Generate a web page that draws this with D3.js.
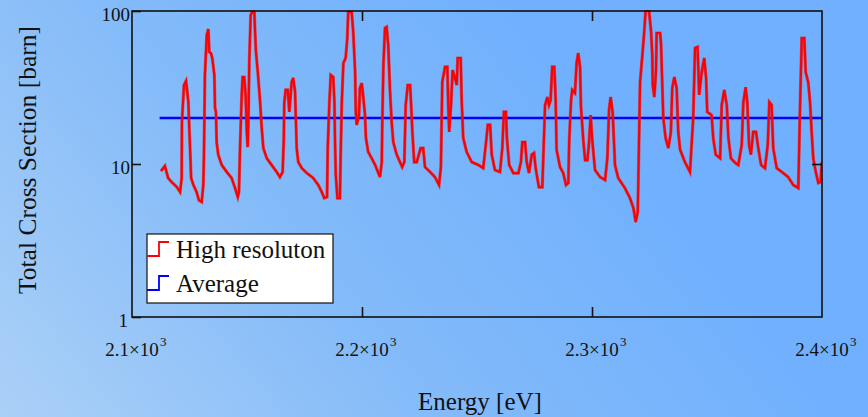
<!DOCTYPE html>
<html><head><meta charset="utf-8">
<script src="https://cdn.jsdelivr.net/npm/d3@7"></script>
<style>html,body{margin:0;padding:0;overflow:hidden;background:#80b9fa}</style>
</head><body>
<script>
// Data
const energy = [2112.6,2114.3,2115.7,2117.3,2119.4,2120.9,2121.6,2121.7,2122.6,2123.5,2124.5,2124.8,2125.3,2125.7,2126.7,2128.1,2129.1,2130.3,2131.0,2131.3,2131.7,2132.5,2133.2,2133.6,2134.3,2134.9,2135.8,2136.1,2136.5,2136.8,2137.5,2139.0,2141.2,2143.3,2144.8,2146.0,2146.5,2147.0,2147.7,2148.1,2148.8,2149.4,2149.9,2150.3,2150.6,2151.0,2151.6,2152.5,2153.2,2153.5,2153.9,2154.7,2155.7,2156.4,2157.1,2158.6,2160.7,2162.9,2164.3,2165.5,2166.0,2166.2,2166.8,2167.7,2168.4,2169.4,2170.1,2170.9,2171.6,2172.3,2173.8,2176.0,2178.8,2181.0,2182.5,2183.6,2184.8,2185.1,2185.8,2186.4,2187.5,2188.0,2188.3,2188.6,2189.3,2190.4,2190.7,2191.2,2191.9,2192.9,2193.6,2194.0,2195.5,2196.2,2197.0,2197.3,2197.7,2198.7,2199.1,2199.9,2200.6,2201.3,2201.7,2202.7,2204.2,2205.7,2207.1,2207.8,2208.6,2208.8,2209.3,2210.0,2210.7,2211.4,2212.2,2212.9,2213.6,2215.1,2216.5,2217.5,2218.4,2219.0,2219.9,2220.9,2221.3,2221.9,2222.7,2223.8,2225.5,2226.6,2227.4,2229.6,2231.7,2233.5,2234.3,2234.9,2236.1,2237.1,2237.5,2237.9,2238.7,2239.4,2240.4,2241.2,2241.6,2242.9,2243.3,2244.0,2245.5,2247.7,2250.6,2252.7,2253.8,2254.7,2255.7,2256.4,2257.8,2260.0,2261.0,2261.7,2262.6,2263.0,2264.0,2265.8,2268.0,2269.1,2269.7,2270.9,2271.6,2272.6,2273.8,2274.8,2275.5,2276.9,2278.4,2279.0,2279.6,2280.6,2281.3,2282.0,2282.7,2283.6,2284.2,2284.6,2286.1,2287.5,2288.7,2289.7,2290.1,2290.9,2291.4,2292.6,2293.3,2294.0,2294.8,2295.2,2296.2,2297.0,2298.0,2298.7,2299.4,2300.1,2301.3,2303.5,2305.7,2306.7,2307.4,2308.1,2309.0,2310.0,2311.4,2314.3,2316.5,2318.0,2319.0,2319.9,2320.4,2320.9,2321.9,2322.7,2323.3,2324.8,2325.7,2326.2,2326.4,2327.1,2327.8,2328.1,2329.6,2330.0,2330.6,2331.0,2332.0,2333.2,2334.3,2334.9,2335.8,2336.8,2337.5,2338.3,2340.4,2342.6,2344.0,2344.8,2345.9,2346.6,2347.7,2348.8,2349.6,2350.1,2352.0,2352.7,2353.8,2355.7,2356.4,2357.5,2358.6,2359.3,2360.4,2362.2,2363.6,2365.1,2365.8,2366.8,2367.5,2368.3,2369.1,2370.1,2371.3,2372.3,2373.5,2375.2,2376.4,2377.1,2378.1,2378.8,2380.3,2382.5,2385.3,2387.5,2389.7,2390.4,2391.2,2392.3,2392.9,2394.0,2394.8,2395.5,2396.2,2397.3,2398.4,2399.4,2399.9];
const crossSection = [9.0,9.7,8.1,7.6,7.1,6.56,8.1,18.8,32.8,34.9,25.4,18.8,12.0,8.1,7.3,6.56,5.8,5.65,7.3,12.0,38.2,69.7,76.3,54,53,49.3,38.2,23.2,21.9,13.9,11.5,9.85,8.87,8.1,6.97,6.08,6.56,13.3,28.3,37.0,37.0,28.3,16.2,12.9,18.8,47.8,94,100,98.5,72.9,54,39.9,25.4,17.2,12.7,10.9,9.85,8.87,8.22,8.87,14.8,25.0,30.5,30.5,21.9,34.3,36.5,29.6,12.7,10.3,9.4,8.73,8.1,7.29,6.56,5.99,6.08,12.7,25.0,38.2,37.0,25.4,13.3,8.47,5.99,5.99,10.9,25.0,45.7,49.3,66.6,98.5,98.5,72.9,39.9,21.9,18.0,20.9,31.4,33.8,27.0,20.9,14.8,12.0,10.9,9.85,8.73,8.22,10.3,18.0,44.4,77.4,78.6,60.0,29.6,18.8,13.9,11.5,10.3,9.55,10.3,24.3,32.8,32.8,25.4,16.2,10.3,10.3,12.7,12.7,9.55,8.87,8.22,7.29,9.55,34.3,43.1,43.1,24.3,16.2,24.3,41.1,36.5,32.8,49.3,49.3,27.0,14.8,12.0,10.3,9.85,9.4,13.3,18.0,18.0,11.5,9.14,8.87,12.7,21.9,21.9,14.8,9.85,8.73,8.73,10.3,13.9,13.9,10.3,8.73,11.5,11.8,9.4,7.07,7.07,13.3,24.3,27.4,24.3,26.2,43.1,43.1,26.2,12.4,9.55,8.73,7.29,7.51,14.4,26.2,30.5,29.1,45.7,53.1,43.1,23.6,14.4,10.6,10.6,13.7,20.9,14.4,9.14,8.22,7.86,11.1,22.5,27.4,21.5,9.85,8.1,6.97,5.99,5.16,4.18,4.86,13.3,34.3,51.6,72.9,100,100,72.9,51.6,32.8,27.4,39.9,71.8,71.8,61.8,31.4,20.0,14.8,12.7,16.2,31.4,37.0,31.4,16.2,12.4,10.3,8.87,20.0,57.3,58.2,28.3,39.9,49.3,36.5,21.9,20.9,14.8,11.5,10.9,24.3,30.5,24.3,14.8,10.9,10.2,9.85,13.3,25.4,31.8,25.4,13.3,11.5,16.2,16.2,12.7,9.85,9.4,13.3,25.4,24.3,12.7,9.4,8.87,8.22,7.29,6.97,21.9,66.6,66.6,39.9,34.3,25.4,16.2,10.9,8.87,7.51,7.63,10.3];
const averageRange = [2112, 2400];
const averageValue = 20;
const xTicks = [2100, 2200, 2300, 2400];
const xTickMantissa = ["2.1", "2.2", "2.3", "2.4"];
const yTicks = [1, 10, 100];
const yTickLabels = ["1", "10", "100"];
const seriesNames = ["High resoluton", "Average"];
const seriesColors = ["#ff0000", "#0000ff"];

const W = 868, H = 417;
const svg = d3.select("body").append("svg").attr("width", W).attr("height", H)
  .style("font-family", "'Liberation Serif','Times New Roman',serif");

const defs = svg.append("defs");
const grad = defs.append("linearGradient").attr("id", "bg")
  .attr("gradientUnits", "userSpaceOnUse")
  .attr("x1", 0).attr("y1", H).attr("x2", 520).attr("y2", 0);
grad.append("stop").attr("offset", 0).attr("stop-color", "#abd0f7");
grad.append("stop").attr("offset", 0.5).attr("stop-color", "#84bbf9");
grad.append("stop").attr("offset", 1).attr("stop-color", "#70b0fe");
svg.append("rect").attr("width", W).attr("height", H).attr("fill", "url(#bg)");

const L = 132, R = 822, T = 11, B = 317;
const x = d3.scaleLinear().domain([2100, 2400]).range([L, R]);
const y = d3.scaleLog().domain([1, 100]).range([B, T]);

defs.append("clipPath").attr("id", "clip").append("rect")
  .attr("x", L).attr("y", T - 1).attr("width", R - L).attr("height", B - T + 1);

// average line
const plot = svg.append("g").attr("clip-path", "url(#clip)");
plot.append("line")
  .attr("x1", x(averageRange[0])).attr("x2", x(averageRange[1]))
  .attr("y1", y(averageValue)).attr("y2", y(averageValue))
  .attr("stroke", seriesColors[1]).attr("stroke-width", 2.5);

// high resolution line
const data = energy.map((e, i) => [e, crossSection[i]]);
const line = d3.line().x(d => x(d[0])).y(d => y(d[1]));
plot.append("path").datum(data).attr("d", line)
  .attr("fill", "none").attr("stroke", "#e01818")
  .attr("stroke-width", 3.2).attr("stroke-linejoin", "miter").attr("opacity", 0.55);
plot.append("path").datum(data).attr("d", line)
  .attr("fill", "none").attr("stroke", seriesColors[0])
  .attr("stroke-width", 2.2).attr("stroke-linejoin", "miter");

// axes (ticks inward)
const fmtNone = () => "";
const gB = svg.append("g").attr("transform", `translate(0,${B})`)
  .call(d3.axisBottom(x).tickValues([2200, 2300]).tickSize(-10).tickFormat(fmtNone));
const gT = svg.append("g").attr("transform", `translate(0,${T})`)
  .call(d3.axisTop(x).tickValues([2200, 2300]).tickSize(-10).tickFormat(fmtNone));
const gL = svg.append("g").attr("transform", `translate(${L},0)`)
  .call(d3.axisLeft(y).tickValues(yTicks).tickSize(-9).tickFormat(fmtNone));
const gR = svg.append("g").attr("transform", `translate(${R},0)`)
  .call(d3.axisRight(y).tickValues([10]).tickSize(-10).tickFormat(fmtNone));
[gB, gT, gL, gR].forEach(g => {
  g.select(".domain").remove();
  g.selectAll(".tick line").attr("stroke", "#111").attr("stroke-width", 1.6);
});
svg.append("rect").attr("x", L).attr("y", T).attr("width", R - L).attr("height", B - T)
  .attr("fill", "none").attr("stroke", "#111").attr("stroke-width", 1.6);

// y tick labels
svg.append("g").selectAll("text").data(yTicks).join("text")
  .attr("x", (d, i) => i === 0 ? 128 : 130)
  .attr("y", d => y(d) + 10)
  .attr("text-anchor", "end").attr("font-size", 19).attr("fill", "#111")
  .text((d, i) => yTickLabels[i]);

// x tick labels with superscript
const xl = svg.append("g").selectAll("g").data(xTicks).join("g")
  .attr("transform", d => `translate(${x(d)},356)`);
xl.append("text").attr("text-anchor", "middle").attr("font-size", 19).attr("fill", "#111")
  .text((d, i) => xTickMantissa[i] + "×10");
xl.append("text").attr("x", 28).attr("y", -10).attr("font-size", 13).attr("fill", "#111")
  .text("3");

// axis titles
svg.append("text").attr("x", 480).attr("y", 410).attr("text-anchor", "middle")
  .attr("font-size", 25).attr("fill", "#111").text("Energy [eV]");
svg.append("text").attr("transform", "translate(36,160) rotate(-90)")
  .attr("text-anchor", "middle").attr("font-size", 25.5).attr("fill", "#111")
  .text("Total Cross Section [barn]");

// legend
const lg = svg.append("g");
lg.append("rect").attr("x", 147).attr("y", 234).attr("width", 186).attr("height", 69)
  .attr("fill", "#fff").attr("stroke", "#111").attr("stroke-width", 1.2);
const legY = [256, 290];
seriesNames.forEach((name, i) => {
  const yb = legY[i];
  lg.append("path")
    .attr("d", `M147,${yb}H159V${yb - 14}H169`)
    .attr("fill", "none").attr("stroke", seriesColors[i]).attr("stroke-width", 1.8);
  lg.append("text").attr("x", 176).attr("y", yb + 2).attr("font-size", 25)
    .attr("fill", "#111").text(name);
});
</script>
</body></html>
